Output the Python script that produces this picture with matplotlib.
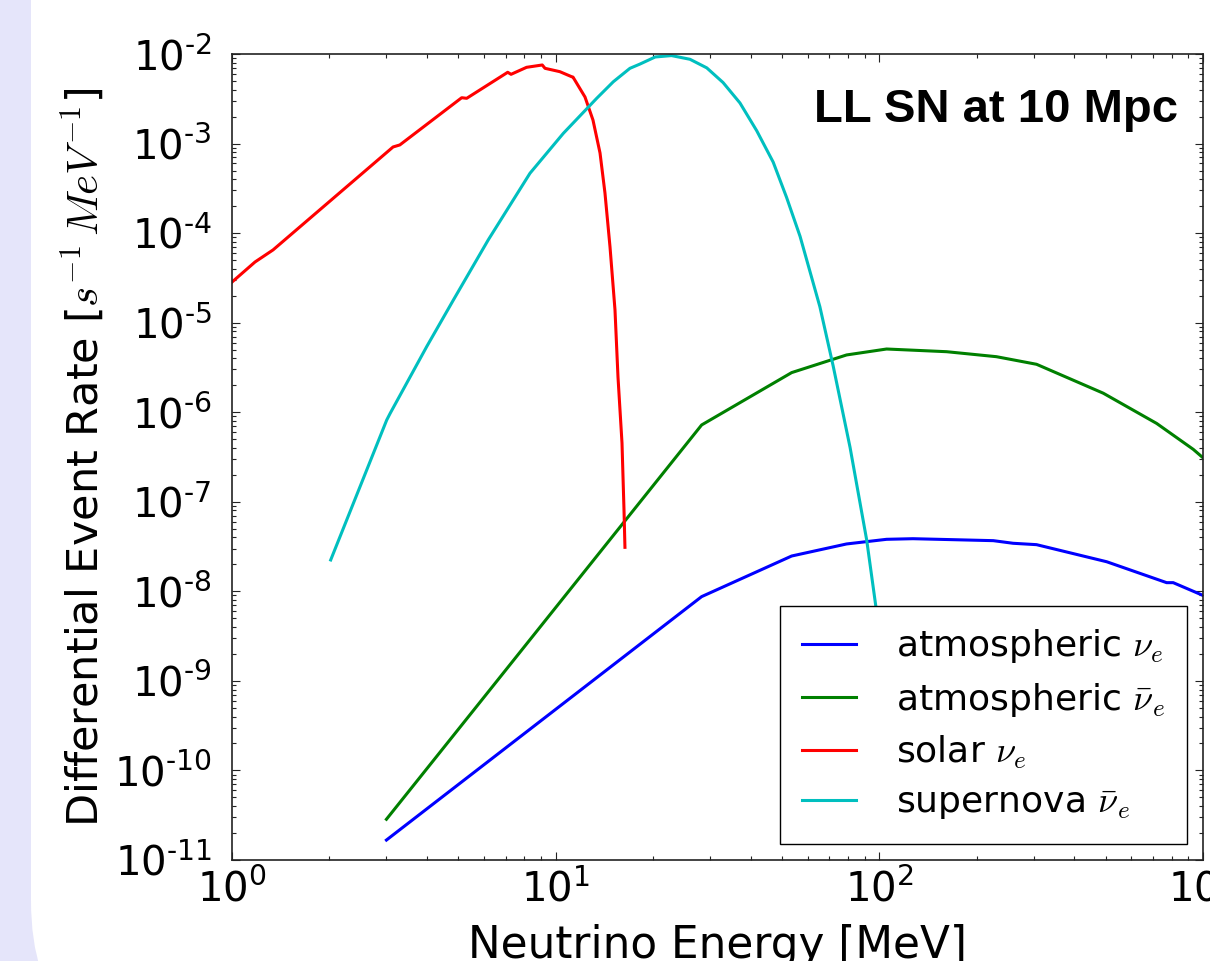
import matplotlib
matplotlib.use("Agg")
import matplotlib.pyplot as plt
from matplotlib.patches import FancyBboxPatch
from matplotlib.transforms import IdentityTransform
from matplotlib.ticker import FuncFormatter, LogLocator
import numpy as np

# ---------------- data ----------------
atm_nue_E = [3.0, 28.25, 53.6, 79.2, 105.3, 127, 181.7, 225, 259, 306, 504, 772, 809, 1000]
atm_nue_R = [1.67e-11, 8.73e-9, 2.48e-8, 3.38e-8, 3.81e-8, 3.87e-8, 3.75e-8, 3.68e-8,
             3.44e-8, 3.32e-8, 2.14e-8, 1.25e-8, 1.25e-8, 9.0e-9]

atm_nuebar_E = [3.0, 28.25, 53.6, 79.2, 105.3, 161.4, 230, 306, 492, 719, 933, 1000]
atm_nuebar_R = [2.85e-11, 7.21e-7, 2.77e-6, 4.36e-6, 5.08e-6, 4.74e-6, 4.17e-6, 3.43e-6,
                1.63e-6, 7.5e-7, 3.85e-7, 3.1e-7]

solar_E = [1.0, 1.178, 1.339, 3.145, 3.30, 5.125, 5.31, 7.11, 7.28, 8.13, 9.09, 9.27,
           10.3, 11.2, 11.31, 12.32, 13.04, 13.71, 14.20, 14.72, 15.25, 15.58, 16.03,
           16.26, 16.37]
solar_R = [2.84e-5, 4.76e-5, 6.49e-5, 9.16e-4, 9.65e-4, 3.25e-3, 3.2e-3, 6.25e-3, 5.93e-3,
           7.1e-3, 7.54e-3, 6.92e-3, 6.35e-3, 5.58e-3, 5.53e-3, 3.31e-3, 1.83e-3, 7.85e-4,
           2.81e-4, 7.0e-5, 1.39e-5, 2.47e-6, 4.54e-7, 8.1e-8, 3.1e-8]

sn_E = [2.018, 3.006, 3.08, 3.995, 4.83, 6.19, 8.33, 10.56, 13.39, 15.07, 16.96, 18.2,
        20.3, 22.8, 26.0, 29.3, 32.9, 37.1, 41.8, 47.0, 51.7, 56.9, 65.5, 72.0, 81.2,
        91.4, 97.6, 100.0]
sn_R = [2.24e-8, 8.18e-7, 9.7e-7, 5.4e-6, 1.79e-5, 8.4e-5, 4.66e-4, 1.30e-3, 3.2e-3,
        4.9e-3, 6.92e-3, 7.71e-3, 9.26e-3, 9.6e-3, 8.73e-3, 7.0e-3, 4.8e-3, 2.84e-3,
        1.39e-3, 6.2e-4, 2.5e-4, 9.2e-5, 1.51e-5, 3.29e-6, 4.05e-7, 3.74e-8, 6.7e-9,
        4.0e-9]

labels = [r"atmospheric $\nu_e$", r"atmospheric $\bar{\nu}_e$",
          r"solar $\nu_e$", r"supernova $\bar{\nu}_e$"]
colors = ["#0000ff", "#008000", "#ff0000", "#00bfbf"]
title_text = "LL SN at 10 Mpc"
xlabel = "Neutrino Energy [MeV]"
ylabel = r"Differential Event Rate [$s^{-1}\,MeV^{-1}$]"

# ---------------- style ----------------
plt.rcParams["font.family"] = ["DejaVu Sans"]
plt.rcParams["mathtext.fontset"] = "cm"

fig = plt.figure(figsize=(12.10, 9.61), dpi=100)
fig.patch.set_facecolor("#e5e5fa")
bg = FancyBboxPatch((31, -100), 3000, 3000,
                    boxstyle="round,pad=0,rounding_size=160",
                    transform=IdentityTransform(), facecolor="white",
                    edgecolor="none", zorder=0)
fig.add_artist(bg)

ax = fig.add_axes([232 / 1210, 101 / 961, 971 / 1210, 806 / 961])
ax.set_facecolor("white")

series = [(atm_nue_E, atm_nue_R), (atm_nuebar_E, atm_nuebar_R),
          (solar_E, solar_R), (sn_E, sn_R)]
for (E, R), c, lab in zip(series, colors, labels):
    ax.plot(E, R, color=c, lw=2.2, label=lab)

ax.set_xscale("log")
ax.set_yscale("log")
ax.set_xlim(1, 1000)
ax.set_ylim(1e-11, 1e-2)


def fmt(v, pos):
    e = int(round(np.log10(v)))
    s = str(e).replace("-", "\u2010")
    return r"$\mathdefault{10^{%s}}$" % s


ax.xaxis.set_major_formatter(FuncFormatter(fmt))
ax.yaxis.set_major_formatter(FuncFormatter(fmt))
ax.yaxis.set_major_locator(LogLocator(base=10, numticks=20))
ax.yaxis.set_minor_locator(LogLocator(base=10, subs=np.arange(2, 10), numticks=20))

ax.tick_params(which="both", direction="in", top=True, right=True, width=0.8,
               color="#222222")
ax.tick_params(which="major", length=5.5)
ax.tick_params(which="minor", length=2.8)
ax.tick_params(axis="y", which="major", labelsize=29, pad=14.5)
ax.tick_params(axis="x", which="major", labelsize=29, pad=7)
for sp in ax.spines.values():
    sp.set_linewidth(1.2)
    sp.set_color("#222222")

ax.set_xlabel(xlabel, fontsize=31.5)
ax.set_ylabel(ylabel, fontsize=31)
ax.xaxis.set_label_coords(0.5, -0.08)
ax.yaxis.set_label_coords(-0.128, 0.5)

ax.text(0.974, 0.9156, title_text, transform=ax.transAxes, ha="right",
        va="baseline", fontsize=34, fontweight="bold", family="Liberation Sans")

leg = ax.legend(loc="lower right", fontsize=26, frameon=True, fancybox=False,
                framealpha=1.0, borderaxespad=0.45, handlelength=1.5,
                handletextpad=1.1, labelspacing=0.42, borderpad=0.6)
leg.get_frame().set_edgecolor("black")
leg.get_frame().set_linewidth(1.0)

fig.savefig("out.png", dpi=100, facecolor=fig.get_facecolor())
